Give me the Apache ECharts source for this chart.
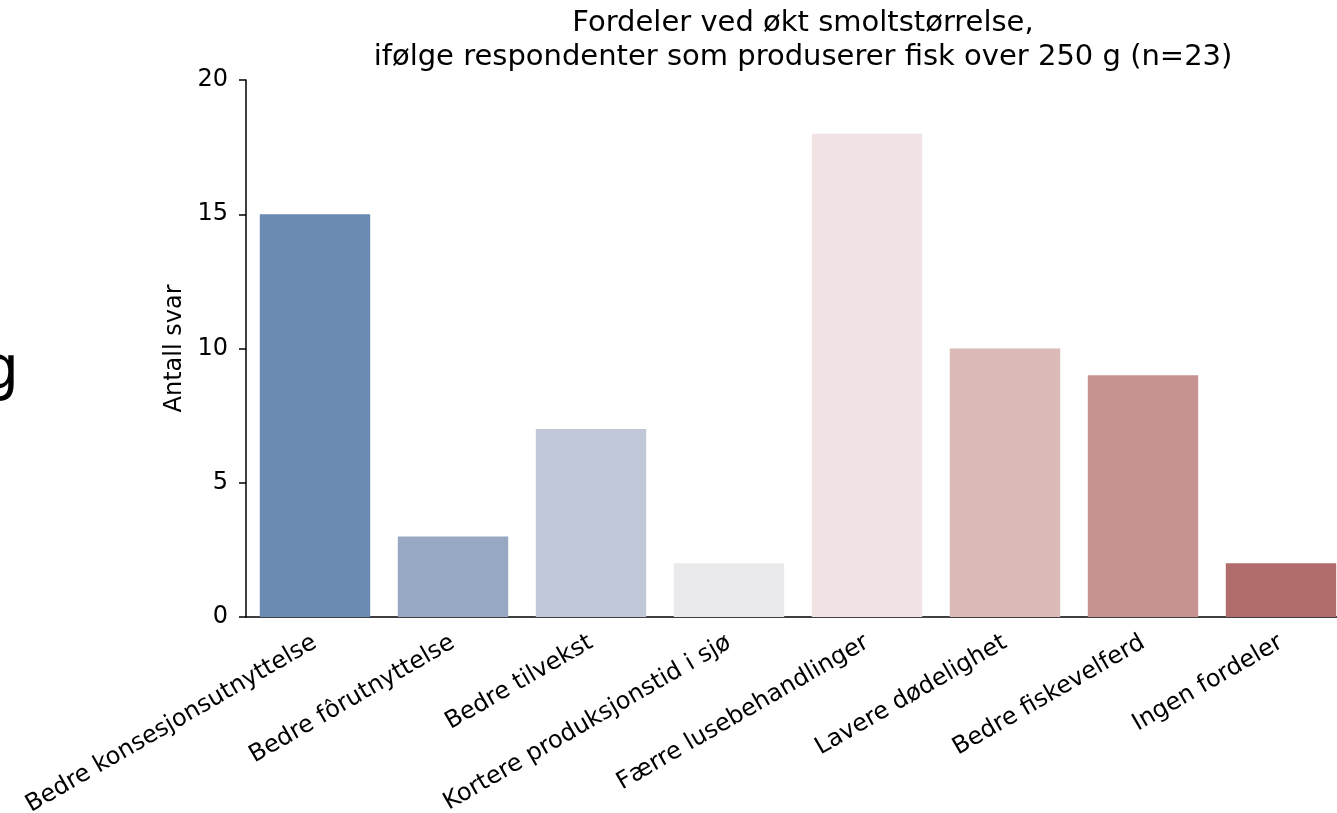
<!DOCTYPE html>
<html>
<head>
<meta charset="utf-8">
<script src="https://cdn.jsdelivr.net/npm/echarts@6/dist/echarts.min.js"></script>
<style>
  html, body { margin: 0; padding: 0; background: #fff; overflow: hidden; }
  #chart { width: 1350px; height: 813px; }
</style>
</head>
<body>
<div id="chart"></div>
<script>
const categories = ['Bedre konsesjonsutnyttelse', 'Bedre fôrutnyttelse', 'Bedre tilvekst', 'Kortere produksjonstid i sjø',
  'Færre lusebehandlinger', 'Lavere dødelighet', 'Bedre fiskevelferd', 'Ingen fordeler']
const values = [15, 3, 7, 2, 18, 10, 9, 2]
const barColors = ['#6b8ab2', '#97a8c3', '#c0c7d6', '#eaeaec', '#f1e3e4', '#dbbab8', '#c69392', '#b06d6b']
const yTicks = [0, 5, 10, 15, 20]

const font = 'DejaVu Sans'
// the plot runs a little past the right edge of the page, as in the original crop
const chart = echarts.init(document.getElementById('chart'))
chart.setOption({
  animation: false,
  title: {
    text: 'Fordeler ved økt smoltstørrelse,\nifølge respondenter som produserer fisk over 250 g (n=23)',
    left: 798, top: 1, textAlign: 'center',
    textStyle: { fontFamily: font, fontSize: 29, fontWeight: 'normal', color: '#000', lineHeight: 34 }
  },
  graphic: [{
    type: 'text', left: -19, top: 342,
    style: { text: 'g', fontFamily: font, fontSize: 60, fill: '#000' }
  }],
  grid: { left: 246, width: 1104, top: 80, bottom: 196, outerBoundsMode: 'none', containLabel: false },
  xAxis: {
    type: 'category', data: categories,
    axisLine: { lineStyle: { color: '#000', width: 1.5 } },
    axisTick: { alignWithLabel: true, length: 7, lineStyle: { color: '#000', width: 1.5 } },
    axisLabel: { rotate: 30, margin: 24, interval: 0, fontFamily: font, fontSize: 24, color: '#000' }
  },
  yAxis: {
    type: 'value', min: yTicks[0], max: yTicks[yTicks.length - 1], interval: 5,
    name: 'Antall svar', nameLocation: 'middle', nameGap: 56,
    nameTextStyle: { fontFamily: font, fontSize: 24, color: '#000' },
    splitLine: { show: false },
    axisLine: { show: true, lineStyle: { color: '#000', width: 1.5 } },
    axisTick: { show: true, length: 7, lineStyle: { color: '#000', width: 1.5 } },
    axisLabel: { margin: 18, fontFamily: font, fontSize: 24, color: '#000' }
  },
  series: [{
    type: 'bar', barWidth: '80%',
    data: values.map((v, i) => ({ value: v, itemStyle: { color: barColors[i] } }))
  }]
})
</script>
</body>
</html>
